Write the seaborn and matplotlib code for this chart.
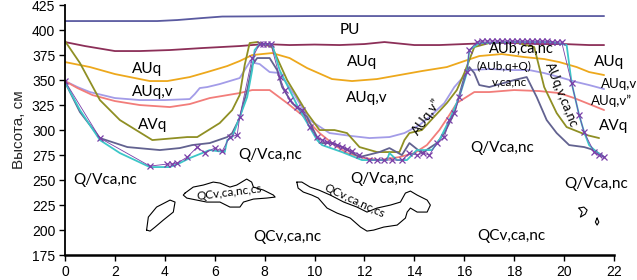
import numpy as np
import pandas as pd
import matplotlib
matplotlib.use("Agg")
import matplotlib.pyplot as plt
import seaborn as sns

# boundary lines (distance, height in cm)
pu_x = [0, 3.7, 4.5, 5.5, 6.3, 10, 15, 21.6]
pu_y = [409, 409, 410, 412, 413.5, 414, 414, 414]

auq_top_x = [0, 0.8, 2, 3, 4.2, 5.5, 7, 8, 9, 10, 11, 12, 12.8, 14, 15, 16, 17, 18, 19, 20, 21, 21.6]
auq_top_y = [388, 384, 379, 379, 380, 382, 384, 386, 385, 385.5, 385, 386, 388, 385, 385, 386, 387, 387, 386, 386, 385, 385]

orange_x = [0, 1, 2, 3, 3.4, 4.1, 5, 5.7, 6.5, 7, 7.5, 8.3, 9, 9.7, 10.7, 11.5, 12.5, 13.4, 14.3,
            15.3, 16, 16.6, 17.5, 18.4, 19.2, 19.8, 20.5, 21, 21.6]
orange_y = [368, 363, 356, 351, 349, 349, 353, 358, 364, 369, 375, 377, 372, 362, 351, 349, 351, 355, 359,
            363, 369, 374, 376, 373, 371, 368, 363, 358, 355]

lav_x = [0, 0.5, 1, 2, 3, 4, 5, 5.2, 5.4, 5.7, 6.2, 7, 7.4, 7.8, 8.2, 8.6, 9.2, 9.8, 10.6, 11.5, 12.2,
         13, 13.6, 14.2, 14.6, 15.2, 15.6, 16.2, 17, 18, 18.6, 19.2, 19.8, 20.5, 21, 21.6]
lav_y = [349, 343, 338, 332, 330, 330, 331, 336, 342, 343, 346, 352, 368, 366, 358, 357, 335, 310, 297, 294, 292,
         293, 297, 305, 313, 327, 343, 360, 361, 360, 360, 357, 353, 348, 345, 341]

salmon_x = [0, 0.5, 1.1, 2, 3, 4.2, 5, 5.8, 7, 7.5, 8.2, 8.9, 9.5, 10.2, 10.8, 11.3, 12, 12.6, 13.4, 14,
            14.5, 15, 15.4, 15.7, 16.4, 17, 18, 19, 19.8, 20.4, 20.8, 21.4, 21.6]
salmon_y = [349, 342, 335, 329, 325, 323, 326, 332, 337, 340, 340, 327, 315, 297, 285, 277, 272, 270, 273, 277,
            285, 300, 315, 327, 338, 338, 340, 339, 337, 332, 328, 322, 320]

olive_x = [0, 0.6, 1.4, 2.2, 3.5, 4.9, 5.3, 6.2, 6.7, 7.0, 7.2, 7.4, 7.7, 8.3, 8.9, 9.7, 10.2, 10.8, 11.3,
           11.8, 12.5, 13.4, 13.6, 13.8, 14.3, 15.3, 15.7, 16.0, 16.4, 17, 18, 18.8, 19.2, 19.7, 20.1, 20.9, 21.4]
olive_y = [389, 367, 330, 310, 290, 293, 293, 307, 320, 335, 365, 387, 388, 383, 350, 317, 300, 300, 297,
           283, 278, 278, 290, 297, 300, 327, 340, 357, 383, 387, 388, 383, 343, 317, 303, 295, 292]

slate_x = [0, 0.6, 1.4, 2.5, 3.8, 4.6, 5.1, 5.8, 6.5, 6.7, 7.0, 7.3, 7.5, 7.7, 8.2, 8.5, 8.7, 9.1, 9.7, 10.1,
           10.2, 10.7, 11.1, 11.8, 12.6, 13.0, 13.5, 13.8, 14.3, 14.9, 15.2, 15.6, 16.0, 16.2, 16.4, 16.6,
           17.0, 18.0, 18.5, 18.9, 19.3, 19.7, 20.2, 20.8, 21.2, 21.6]
slate_y = [348, 318, 292, 283, 280, 282, 285, 287, 293, 297, 312, 340, 365, 372, 372, 360, 343, 327, 313, 293,
           287, 287, 283, 273, 278, 282, 275, 287, 277, 287, 297, 317, 353, 363, 357, 345,
           343, 350, 353, 333, 310, 297, 285, 283, 280, 273]

cyan_x = [0, 0.6, 1.4, 2.2, 3.4, 4.2, 4.6, 5.0, 5.3, 5.8, 6.4, 6.5, 6.7, 7.0, 7.3, 7.5, 7.6, 7.8, 8.3, 8.6,
          9.0, 9.4, 9.8, 10.1, 10.3, 11.1, 11.9, 12.9, 13.0, 13.3, 13.7, 14.1, 14.7, 15.0, 15.4, 15.8, 16.1,
          16.2, 16.6, 18, 19.5, 20.1, 20.3, 20.6, 20.8, 21.0, 21.3, 21.6]
cyan_y = [348, 320, 290, 277, 263, 263, 267, 272, 275, 280, 278, 290, 293, 313, 333, 360, 380, 386, 386, 360,
          340, 320, 303, 290, 285, 278, 270, 270, 277, 270, 270, 280, 280, 290, 310, 333, 357,
          380, 387, 388, 388, 385, 347, 315, 298, 285, 278, 273]

# observation points
obs_x = [0, 1.4, 3.4, 4.1, 4.3, 4.5, 4.9, 5.3, 5.6, 6.0, 6.3, 6.6, 6.9, 7.0, 7.5, 7.8, 7.95, 8.1, 8.25, 8.6,
         8.8, 9.0, 9.3, 9.5, 9.8, 10.1, 10.3, 10.5, 10.7, 10.9, 11.1, 11.3, 11.5, 11.8, 12.2, 12.5, 12.8, 13.1,
         13.5, 13.8, 14.1, 14.35, 14.6, 14.9, 15.2, 15.4, 15.6, 15.8, 16.1, 16.2, 16.5, 16.7, 16.9, 17.1, 17.3,
         17.5, 17.7, 17.9, 18.1, 18.3, 18.5, 18.7, 18.9, 19.1, 19.3, 19.5, 19.7, 19.9, 20.3, 20.6, 20.8, 21.2,
         21.4, 21.6]
obs_y = [349, 292, 264, 266, 266, 267, 273, 283, 277, 282, 279, 293, 295, 313, 372, 386, 386, 386, 386, 353,
         340, 330, 323, 320, 303, 293, 290, 288, 287, 285, 283, 281, 279, 275, 270, 270, 270, 270,
         270, 277, 275, 277, 275, 287, 293, 310, 317, 333, 358, 380, 388, 389, 389, 389, 389,
         389, 389, 389, 389, 389, 389, 389, 389, 389, 389, 388, 388, 388, 347, 315, 298, 278,
         275, 273]

# QCv outlines
qa_x = [3.27, 3.34, 3.67, 4.21, 4.41, 4.34, 3.94, 3.61, 3.41, 3.27]
qa_y = [200, 213, 223, 230, 228, 218, 210, 203, 199, 200]
qb_x = [4.81, 5.14, 5.54, 5.94, 6.21, 6.61, 6.88, 7.28, 7.48, 7.55, 7.95, 8.35, 8.42, 8.08, 7.55, 7.15, 7.01,
        6.61, 6.21, 5.68, 5.28, 4.88, 4.74, 4.81]
qb_y = [237, 243, 245, 248, 247, 243, 245, 251, 248, 243, 240, 235, 233, 232, 231, 228, 223,
        223, 228, 228, 230, 232, 235, 237]
qc_x = [9.29, 9.49, 9.82, 10.17, 10.63, 11.17, 11.70, 12.10, 12.50, 13.04, 13.44, 13.64, 13.84, 14.11, 14.51,
        14.64, 14.51, 14.11, 13.84, 13.71, 13.64, 13.31, 12.77, 12.37, 12.10, 11.84, 11.43, 10.90, 10.50,
        10.15, 9.89, 9.55, 9.34, 9.29]
qc_y = [248, 248, 243, 240, 235, 228, 223, 218, 222, 225, 228, 237, 239, 235, 230,
        225, 218, 218, 222, 218, 212, 205, 203, 200, 199, 203, 212, 217, 222,
        232, 235, 238, 242, 248]
qd_x = [20.59, 20.79, 20.92, 20.85, 20.65, 20.72, 20.59]
qd_y = [222, 223, 220, 216, 213, 218, 222]
qe_x = [21.32, 21.39, 21.32, 21.25, 21.32]
qe_y = [212, 208, 205, 208, 212]

lines = {
    "PU": (pu_x, pu_y, "#5a5aa0"),
    "AUq_top": (auq_top_x, auq_top_y, "#8c2f58"),
    "orange": (orange_x, orange_y, "#eda81c"),
    "lavender": (lav_x, lav_y, "#a39ce8"),
    "salmon": (salmon_x, salmon_y, "#f27d7a"),
    "olive": (olive_x, olive_y, "#8f8f24"),
    "slate": (slate_x, slate_y, "#626290"),
    "cyan": (cyan_x, cyan_y, "#3cc6c8"),
}

frames = []
for name, (xs, ys, _) in lines.items():
    frames.append(pd.DataFrame({"x": xs, "y": ys, "line": name}))
df = pd.concat(frames, ignore_index=True)
pal = {k: v[2] for k, v in lines.items()}

sns.set_theme(style="ticks")
plt.rcParams["font.family"] = ["Liberation Sans", "DejaVu Sans"]

fig = plt.figure(figsize=(6.37, 2.80), dpi=100)
ax = fig.add_axes([0.102, 0.089, 0.862, 0.893])

sns.lineplot(data=df, x="x", y="y", hue="line", palette=pal, sort=False,
             estimator=None, legend=False, linewidth=1.3, ax=ax)
sns.lineplot(x=obs_x, y=obs_y, sort=False, estimator=None, color="#7a3fa8",
             linewidth=0.6, marker="x", markersize=4.5, markeredgewidth=0.9,
             markeredgecolor="#7a3fa8", ax=ax)

for qx, qy in [(qa_x, qa_y), (qb_x, qb_y), (qc_x, qc_y), (qd_x, qd_y), (qe_x, qe_y)]:
    ax.plot(qx, qy, color="black", linewidth=0.8)

tf = "Lato"
labels = [
    ("PU", 11.4, 400, 0, 11), ("AUq", 3.3, 361, 0, 11), ("AUq", 11.9, 368, 0, 11),
    ("AUq", 21.8, 368, 0, 11), ("AUq,v", 3.5, 338, 0, 11), ("AUq,v", 12.1, 332, 0, 11),
    ("AUq,v", 22.2, 346, 0, 9.5), ("AUq,v\u201d", 21.9, 329, 0, 9.5), ("AUq,v\u201d", 14.5, 313, 55, 9.5),
    ("AVq", 3.5, 305, 0, 11), ("AVq", 22.0, 304, 0, 11), ("AUb,ca,nc", 18.3, 381, 0, 10.5),
    ("(AUb,q+Q)", 17.6, 364, 0, 8.5), ("v,ca,nc", 17.8, 348, 0, 8.5), ("AUq,v,ca,nc", 19.9, 335, -68, 9.5),
    ("Q/Vca,nc", 1.6, 250, 0, 11), ("Q/Vca,nc", 8.2, 275, 0, 11), ("Q/Vca,nc", 12.7, 251, 0, 11),
    ("Q/Vca,nc", 17.5, 282, 0, 11), ("Q/Vca,nc", 21.3, 246, 0, 11),
    ("QCv,ca,nc", 8.9, 193, 0, 11), ("QCv,ca,nc", 17.9, 194, 0, 11),
    ("QCv,ca,nc,cs", 6.6, 238, 7, 8.5), ("QCv,ca,nc,cs", 11.6, 229, -25, 8.5),
]
for txt, tx, ty, rot, fs in labels:
    ax.text(tx, ty, txt, ha="center", va="center", rotation=rot, fontsize=fs,
            family=tf, color="black", clip_on=False)

ax.set_xlim(0, 22)
ax.set_ylim(175, 425)
ax.set_xticks(range(0, 23, 2))
ax.set_yticks(range(175, 426, 25))
ax.tick_params(axis="both", direction="out", length=4, width=1, labelsize=10, colors="black", pad=3)
ax.set_xlabel("")
ax.set_ylabel("Высота, см", fontsize=11, labelpad=4)
sns.despine(ax=ax)
ax.spines["bottom"].set_linewidth(1.8)
ax.spines["left"].set_linewidth(1.3)
ax.spines["bottom"].set_color("black")
ax.spines["left"].set_color("black")

fig.savefig("out.png", dpi=100)
